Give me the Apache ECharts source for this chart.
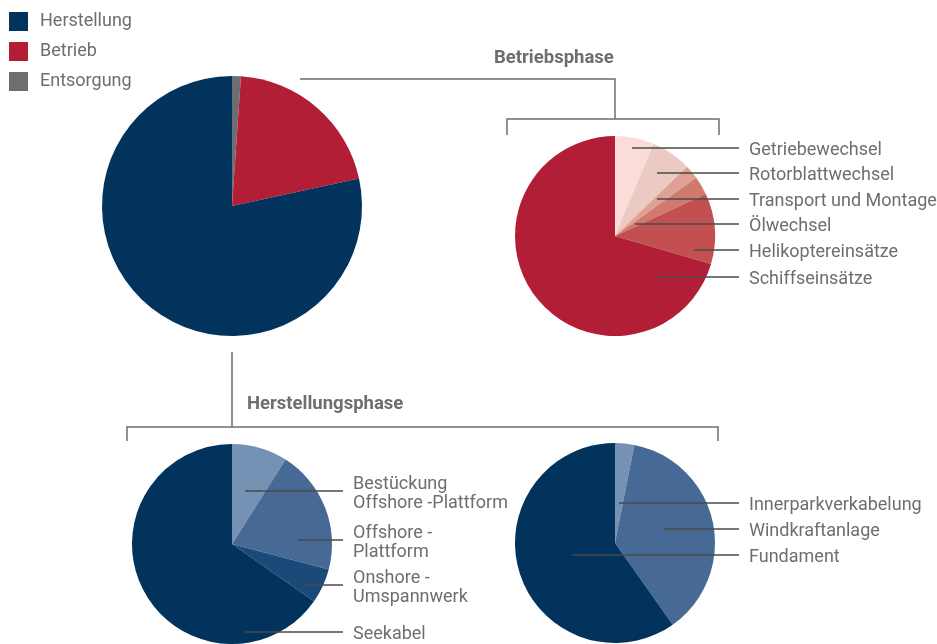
<!DOCTYPE html>
<html>
<head>
<meta charset="utf-8">
<script src="https://cdn.jsdelivr.net/npm/echarts@6/dist/echarts.min.js"></script>
<style>
  html, body { margin: 0; padding: 0; background: #fff; }
  #chart { width: 937px; height: 644px; }
</style>
</head>
<body>
<div id="chart"></div>
<script>
// ---- Data ----
const legendOrder = ['Herstellung', 'Betrieb', 'Entsorgung'];
const mainCategories = ['Entsorgung', 'Betrieb', 'Herstellung'];
const mainValues = [1.1, 20.5, 78.4];

const betriebCategories = ['Getriebewechsel', 'Rotorblattwechsel', 'Transport und Montage', 'Ölwechsel', 'Helikoptereinsätze', 'Schiffseinsätze'];
const betriebValues = [6.3, 6.5, 2.3, 3.0, 11.4, 70.5];

const netzCategories = ['Bestückung\nOffshore -Plattform', 'Offshore -\nPlattform', 'Onshore -\nUmspannwerk', 'Seekabel'];
const netzValues = [9.0, 20.1, 5.6, 65.3];

const parkCategories = ['Innerparkverkabelung', 'Windkraftanlage', 'Fundament'];
const parkValues = [3.1, 37.1, 59.8];

const phaseTitles = ['Betriebsphase', 'Herstellungsphase'];

// ---- Styles / layout ----
const GRAY = '#6d6e71';
const LINE = '#4a4a4a';
const FONT = 'Roboto';
const mainColors = ['#6d6e71', '#b31e37', '#01335d'];
const betriebColors = ['#fadcd8', '#ebcac3', '#dfa095', '#d07a6e', '#c25050', '#b31e37'];
const netzColors = ['#7591b3', '#466a95', '#1a4b78', '#01335d'];
const parkColors = ['#7591b3', '#466a95', '#01335d'];

// label rows: [leader y, leader start x relative to pie centre, text y shift]
const betriebRows = [[148, 17, 2], [173, 42, 2], [199, 42, 2], [224, 20, 2], [250, 79, 2], [277, 42, 2]];
const netzRows = [[491, 13, 3], [540, 66, 3], [585, 72, 3], [632, 13, 2]];
const parkRows = [[503, 4, 2], [529, 49, 2], [555, -43, 2]];

function toData(names, values, colors) {
  return names.map((n, i) => ({ name: n, value: values[i], itemStyle: { color: colors[i] } }));
}

function makeLayout(rows, labelX) {
  return function (p) {
    const r = rows[p.dataIndex];
    return { x: labelX, y: r[0] + r[2], align: 'left', verticalAlign: 'middle' };
  };
}

function leaderLines(rows, cx, labelX) {
  return rows.map(r => ({
    type: 'line', silent: true, z: 10,
    shape: { x1: cx + r[1], y1: r[0], x2: labelX - 10, y2: r[0] },
    style: { stroke: LINE, lineWidth: 1.5 }
  }));
}

function subPie(names, values, colors, cx, cy, rows, labelX) {
  return {
    type: 'pie',
    center: [cx, cy],
    radius: 100,
    startAngle: 90,
    clockwise: true,
    avoidLabelOverlap: false,
    animation: false,
    emphasis: { disabled: true },
    silent: true,
    data: toData(names, values, colors),
    label: {
      show: true, position: 'outside', color: GRAY, fontFamily: FONT, fontSize: 18, lineHeight: 19
    },
    labelLine: { show: false },
    labelLayout: makeLayout(rows, labelX)
  };
}

const chart = echarts.init(document.getElementById('chart'), null, { renderer: 'canvas' });

const bracketStyle = { stroke: GRAY, lineWidth: 1.5, fill: null };

chart.setOption({
  backgroundColor: '#fff',
  animation: false,
  legend: {
    data: legendOrder,
    orient: 'vertical',
    left: 9, top: 12,
    padding: 0,
    itemWidth: 19, itemHeight: 19, itemGap: 11,
    icon: 'rect',
    selectedMode: false,
    textStyle: { color: GRAY, fontFamily: FONT, fontSize: 18, padding: [3, 0, 0, 7] }
  },
  graphic: [
    { type: 'polyline', shape: { points: [[300, 79], [615, 79], [615, 119]] }, style: bracketStyle, silent: true },
    { type: 'polyline', shape: { points: [[507, 135], [507, 119], [719, 119], [719, 135]] }, style: bracketStyle, silent: true },
    { type: 'polyline', shape: { points: [[232, 352], [232, 427]] }, style: bracketStyle, silent: true },
    { type: 'polyline', shape: { points: [[127, 441], [127, 427], [718, 427], [718, 441]] }, style: bracketStyle, silent: true },
    { type: 'text', x: 494, y: 58, style: { text: phaseTitles[0], fill: GRAY, font: 'bold 18.5px Roboto', textVerticalAlign: 'middle' }, silent: true },
    { type: 'text', x: 247, y: 404, style: { text: phaseTitles[1], fill: GRAY, font: 'bold 18.5px Roboto', textVerticalAlign: 'middle' }, silent: true }
  ].concat(
    leaderLines(betriebRows, 615, 749),
    leaderLines(netzRows, 232, 353),
    leaderLines(parkRows, 615, 749)
  ),
  series: [
    {
      type: 'pie',
      center: [232, 206],
      radius: 130,
      startAngle: 90,
      clockwise: true,
      animation: false,
      emphasis: { disabled: true },
      silent: true,
      data: toData(mainCategories, mainValues, mainColors),
      label: { show: false },
      labelLine: { show: false }
    },
    subPie(betriebCategories, betriebValues, betriebColors, 615, 236, betriebRows, 749),
    subPie(netzCategories, netzValues, netzColors, 232, 544, netzRows, 353),
    subPie(parkCategories, parkValues, parkColors, 615, 543, parkRows, 749)
  ]
});
</script>
</body>
</html>
